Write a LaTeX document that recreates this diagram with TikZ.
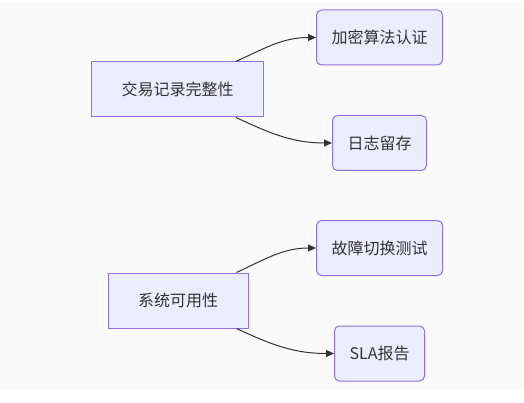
\documentclass[tikz,border=0pt]{standalone}
\usepackage{fontspec}
\setmainfont{Noto Sans CJK SC}
\usepackage{tikz}
\usetikzlibrary{arrows.meta}
\definecolor{bgColor}{RGB}{250, 250, 250}
\definecolor{boxFill}{RGB}{236, 236, 255}
\definecolor{boxLine}{RGB}{147, 112, 219}
\definecolor{textColor}{RGB}{51, 51, 51}
\definecolor{edgeColor}{RGB}{51, 51, 51}
\tikzset{
    goal_node/.style={
        draw=boxLine,
        fill=boxFill,
        line width=1pt,
        text=textColor,
        font=\fontsize{16}{19}\selectfont,
        inner xsep=30pt,
        minimum height=55pt
    },
    check_node/.style={
        goal_node,
        rounded corners=5pt,
        inner xsep=15pt
    },
    check_edge/.style={
        -{Triangle[length=8pt, width=7pt]},
        line width=1pt,
        draw=edgeColor
    }
}
\begin{document}
\begin{tikzpicture}[x=1pt, y=1pt]
        \useasboundingbox (0,0) rectangle (524,402);
        \fill[bgColor] (0,13) rectangle (524,400);

        \node[goal_node] (ledger) at (177.5,312.5) {交易记录完整性};
        \node[check_node] (crypto) at (379.5,364.5) {加密算法认证};
        \node[check_node] (logs) at (379.5,259) {日志留存};

        \node[goal_node] (avail) at (178,101.5) {系统可用性};
        \node[check_node] (failover) at (379.5,154) {故障切换测试};
        \node[check_node] (sla) at (379.5,48.5) {SLA报告};

        % 每个目标两条边,上面一条出自顶边,下面一条出自底边
        \draw[check_edge] ([xshift=-28pt]ledger.north east) to[out=25, in=180] (crypto.west);
        \draw[check_edge] ([xshift=-28pt]ledger.south east) to[out=-25, in=180] (logs.west);
        \draw[check_edge] ([xshift=-12pt]avail.north east) to[out=25, in=180] (failover.west);
        \draw[check_edge] ([xshift=-12pt]avail.south east) to[out=-25, in=180] (sla.west);
    \end{tikzpicture}
\end{document}
